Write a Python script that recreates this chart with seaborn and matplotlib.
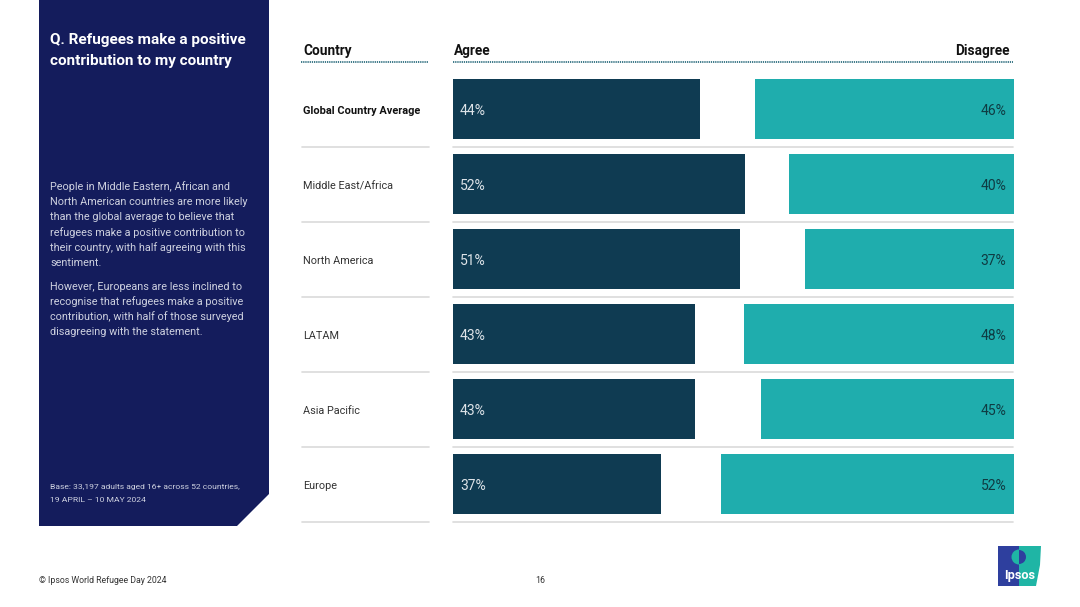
import matplotlib
matplotlib.use("Agg")
import matplotlib.pyplot as plt
import seaborn as sns
import pandas as pd
from matplotlib.patches import Polygon, Wedge

regions = ["Global Country Average", "Middle East/Africa", "North America", "LATAM", "Asia Pacific", "Europe"]
agree = [44, 52, 51, 43, 43, 37]
disagree = [46, 40, 37, 48, 45, 52]

title = "Q. Refugees make a positive\ncontribution to my country"
para1 = ["People in Middle Eastern, African and", "North American countries are more likely",
         "than the global average to believe that", "refugees make a positive contribution to",
         "their country, with half agreeing with this", "sentiment."]
para2 = ["However, Europeans are less inclined to", "recognise that refugees make a positive",
         "contribution, with half of those surveyed", "disagreeing with the statement."]
base = ["Base: 33,197 adults aged 16+ across 52 countries,", "19 APRIL – 10 MAY 2024"]
footer = "© Ipsos World Refugee Day 2024"
page = "16"

NAVY = "#141C5C"; DARK = "#0F3B52"; TEAL = "#1FADAD"; GREY = "#DADADA"; INK = "#111111"
LOGO_BLUE = "#2E3F9E"; LOGO_TEAL = "#1FB5A5"; PANEL_TXT = "#CDD0DF"
W, H = 1080, 607

sns.set_theme(style="white")
plt.rcParams["font.family"] = ["Roboto", "DejaVu Sans"]
fig = plt.figure(figsize=(W/100, H/100), dpi=100, facecolor="white")

# pixel-coordinate layer for the slide furniture
bg = fig.add_axes([0, 0, 1, 1]); bg.set_xlim(0, W); bg.set_ylim(H, 0); bg.axis("off")
bg.add_patch(Polygon([(39, 0), (269, 0), (269, 494), (237, 526), (39, 526)], fc=NAVY, ec="none"))
bg.text(50, 50.5, title, color="white", fontsize=10.95, fontweight="bold", va="center", linespacing=1.68)
for i, s in enumerate(para1):
    bg.text(50, 186.5 + i*15.2, s, color=PANEL_TXT, fontsize=7.85, va="center")
for i, s in enumerate(para2):
    bg.text(50, 286.5 + i*15.2, s, color=PANEL_TXT, fontsize=7.85, va="center")
for i, s in enumerate(base):
    bg.text(50, 487 + i*13, s, color=PANEL_TXT, fontsize=6.1, va="center")
bg.text(39, 580.5, footer, color="#333333", fontsize=6.35, va="center")
bg.text(540, 580.5, page, color="#333333", fontsize=6.35, va="center", ha="center")

bg.text(303, 50.5, "Country", color=INK, fontsize=9.8, fontweight="bold", va="center")
bg.text(454, 50.5, "Agree", color=INK, fontsize=9.8, fontweight="bold", va="center")
bg.text(1010, 50.5, "Disagree", color=INK, fontsize=9.8, fontweight="bold", va="center", ha="right")
for x0, x1 in [(301, 428), (453, 1013)]:
    bg.plot([x0, x1], [61.5, 61.5], color="#2F6F80", lw=1.3, ls=(0, (0.7, 0.5)))

# logo
bg.add_patch(Polygon([(998, 546), (1019, 546), (1019, 586), (998, 586)], fc=LOGO_BLUE, ec="none"))
bg.add_patch(Polygon([(1019, 546), (1041, 546), (1040, 565), (1036, 586), (1019, 586)], fc=LOGO_TEAL, ec="none"))
bg.add_patch(Wedge((1019, 557), 7.5, 90, 270, fc=LOGO_TEAL, ec="none"))
bg.add_patch(Wedge((1019, 557), 7, -90, 90, fc=LOGO_BLUE, ec="none"))
bg.text(1019.5, 576, "Ipsos", color="white", fontsize=9.2, fontweight="bold", ha="center", va="center")

# chart layer
top, bottom, left, right = 71.5, 521.5, 453, 1013.5
rect = [left/W, 1 - bottom/H, (right-left)/W, (bottom-top)/H]
df = pd.DataFrame({"region": regions, "agree": agree, "disagree": disagree})
XMAX = 99.7

ax1 = fig.add_axes(rect, facecolor="none")
sns.barplot(data=df, y="region", x="agree", color=DARK, width=0.8, saturation=1, ax=ax1,
            orient="y", linewidth=0, edgecolor="none")
ax1.set_xlim(0, XMAX)

ax2 = fig.add_axes(rect, facecolor="none")
sns.barplot(data=df, y="region", x="disagree", color=TEAL, width=0.8, saturation=1, ax=ax2,
            orient="y", linewidth=0, edgecolor="none")
ax2.set_xlim(XMAX, 0)

for ax in (ax1, ax2):
    ax.set_ylim(5.5, -0.5)
    ax.set_xlabel(""); ax.set_ylabel("")
    ax.set_xticks([]); ax.set_yticks([])
    sns.despine(ax=ax, left=True, bottom=True)

for i, (a, d) in enumerate(zip(agree, disagree)):
    ax1.text(1.25, i + 0.022, f"{a}%", color="#DDE3E8", fontsize=10, va="center", ha="left")
    ax2.text(1.25, i + 0.022, f"{d}%", color="#0F3B42", fontsize=10, va="center", ha="right")

for i, r in enumerate(regions):
    y = 111 + i*75
    bg.text(303, y, r, color=INK if i == 0 else "#333333", fontsize=7.9 if i == 0 else 7.8,
            fontweight="bold" if i == 0 else "normal", va="center")
    sy = 146.5 + i*75
    bg.plot([302, 429], [sy, sy], color=GREY, lw=1.2)
    bg.plot([453, 1013], [sy, sy], color=GREY, lw=1.2)

fig.savefig("out.png", dpi=100)
